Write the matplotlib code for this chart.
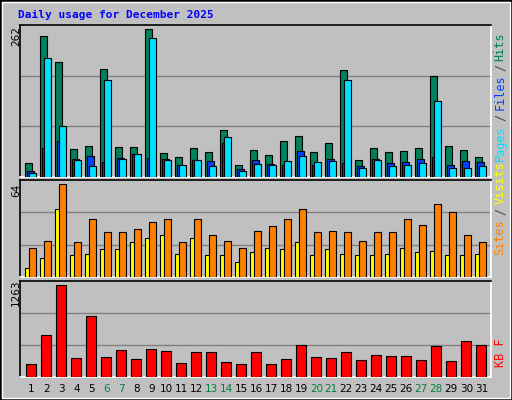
import matplotlib
matplotlib.use("Agg")
import matplotlib.pyplot as plt
from matplotlib.patches import Rectangle
import numpy as np

days = list(range(1, 32))
weekends = [6, 7, 13, 14, 20, 21, 27, 28]
hits = [25,249,203,50,55,191,53,53,262,43,36,52,45,84,21,48,39,64,73,45,61,189,30,52,45,46,52,178,55,48,36]
files = [11,52,64,32,37,27,34,41,34,32,21,30,29,60,14,30,23,21,46,21,32,25,20,32,25,27,32,36,21,29,27]
pages = [7,210,91,30,20,171,32,41,246,30,21,30,20,70,11,23,21,29,37,27,29,171,16,30,20,21,25,135,16,16,20]
sites = [6,13,47,15,16,19,19,24,27,29,16,27,15,15,10,17,20,19,24,15,19,16,15,15,16,20,17,18,15,15,16]
visits = [20,25,64,24,40,31,31,33,38,40,24,40,29,25,20,32,35,40,47,31,32,31,25,31,31,40,36,50,45,29,24]
kbytes = [173,572,1263,266,838,279,372,253,386,359,186,346,346,199,173,346,173,253,439,279,266,346,239,306,292,292,239,425,226,492,439]

W, H = 512, 400
fig = plt.figure(figsize=(W/100, H/100), dpi=100, facecolor="#C0C0C0")
mono = "DejaVu Sans Mono"

fig.patches.append(Rectangle((0, 0), 1, 1, transform=fig.transFigure, fill=False, ec="black", lw=2))
fig.patches.append(Rectangle((2/W, 2/H), 1-4/W, 1-4/H, transform=fig.transFigure, fill=False, ec="white", lw=1))

def mkax(top, bottom):
    ax = fig.add_axes([20/W, 1-bottom/H, 471/W, (bottom-top)/H])
    ax.set_facecolor("#C0C0C0")
    ax.set_xlim(-0.35, 31.05)
    ax.set_xticks([]); ax.set_yticks([])
    for s in ("top", "left"):
        ax.spines[s].set_color("black")
    for s in ("bottom", "right"):
        ax.spines[s].set_color("white")
    for sp in ax.spines.values():
        sp.set_linewidth(1.2)
    return ax

x = np.arange(31)
kw = dict(align="edge", edgecolor="black", linewidth=0.8, zorder=3)

ax1 = mkax(25, 177)
top1 = 262*151/147
ax1.set_ylim(0, top1)
for f in (1/3, 2/3):
    ax1.axhline(top1*f, color="#808080", lw=1, zorder=1)
ax1.bar(x, hits, width=0.47, color="#00805C", **kw)
ax1.bar(x+0.13, files, width=0.47, color="#0040FF", **kw)
ax1.bar(x+0.27, pages, width=0.47, color="#00E0FF", **kw)

ax2 = mkax(180, 277)
top2 = 64*288/276
ax2.set_ylim(0, top2)
for f in (1/3, 2/3):
    ax2.axhline(top2*f, color="#808080", lw=1, zorder=1)
ax2.bar(x, sites, width=0.33, color="#FFFF00", **kw)
ax2.bar(x+0.27, visits, width=0.47, color="#FF8000", **kw)

ax3 = mkax(281, 377)
top3 = 1263*297/285
ax3.set_ylim(0, top3)
for f in (1/3, 2/3):
    ax3.axhline(top3*f, color="#808080", lw=1, zorder=1)
ax3.bar(x+0.07, kbytes, width=0.67, color="#FF0000", **kw)

for i, d in enumerate(days):
    xp = (20 + (i + 0.07 + 0.335 + 0.35) * 15) / W
    fig.text(xp, 1-389/H, str(d), ha="center", va="center", fontsize=7.5,
             color="#008040" if d in weekends else "black")

fig.text(18/W, 1-15/H, "Daily usage for December 2025", fontsize=8, fontweight="bold",
         color="#0000FF", family=mono, va="center")

for txt, yc in (("262", 36), ("64", 190), ("1263", 293)):
    fig.text(16/W, 1-yc/H, txt, rotation=90, ha="center", va="center", fontsize=7.5)

def rlabel(parts, ybottom):
    y = ybottom
    for t, c in parts:
        h = len(t) * 8.4
        fig.text(500/W, 1-(y - h/2)/H, t, rotation=90, ha="center", va="center",
                 fontsize=8.5, color=c, family=mono)
        y -= h

rlabel([("Pages", "#00E0FF"), ("/", "#404040"), ("Files", "#0040FF"), ("/", "#404040"), ("Hits", "#00805C")], 164)
rlabel([("Sites", "#FF8000"), ("/", "#404040"), ("Visits", "#FFFF00")], 258)
rlabel([("KB F", "#FF0000")], 370)

fig.savefig("out.png", dpi=100, facecolor=fig.get_facecolor())
